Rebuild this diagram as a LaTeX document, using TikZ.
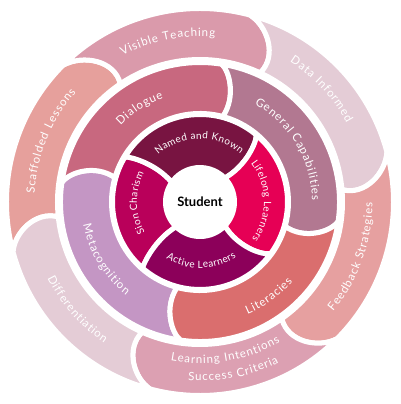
\documentclass[tikz,border=0pt]{standalone}
\usepackage{fontspec}
\setmainfont{Lato}
\newfontfamily\lblfont{Lato}
\usepackage{tikz}
\usetikzlibrary{decorations.text}

\definecolor{sioncol}{HTML}{B9005A}
\definecolor{namedcol}{HTML}{781441}
\definecolor{lifelongcol}{HTML}{E60055}
\definecolor{activecol}{HTML}{8C005A}
\definecolor{metacol}{HTML}{C496C4}
\definecolor{dialoguecol}{HTML}{C8687F}
\definecolor{generalcol}{HTML}{B27891}
\definecolor{literacycol}{HTML}{DA6E6E}
\definecolor{scaffoldcol}{HTML}{E6A09C}
\definecolor{visiblecol}{HTML}{DA9AAB}
\definecolor{datacol}{HTML}{E4CCD6}
\definecolor{feedbackcol}{HTML}{E6A0A0}
\definecolor{learningcol}{HTML}{DCA0B2}
\definecolor{diffcol}{HTML}{E4CCD6}

\begin{document}
\begin{tikzpicture}[x=1pt, y=1pt,
	part/.style={draw=white, line width=5pt, line join=round},
	innerlbl/.style={decorate, decoration={text along path, text align=center, text color=white,
		text={|\lblfont\fontsize{10}{12}\selectfont\kern0.4pt|#1}}},
	outerlbl/.style={decorate, decoration={text along path, text align=center, text color=white,
		text={|\lblfont\fontsize{11.5}{14}\selectfont\kern0.9pt|#1}}}]

	\fill[white] (-200,-202) rectangle (200,202);
	\useasboundingbox (-200,-202) rectangle (200,202);

	% each part: tail at the outer edge, rounded head at the clockwise end
	\foreach \col/\rin/\rout/\tout/\tin/\hout/\hin/\bul in {
		sioncol/34.5/87.5/229/226/149/145/6, namedcol/34.5/87.5/149/145/50/44/6,
		lifelongcol/34.5/87.5/50/44/-36/-44/6, activecol/34.5/87.5/-36/-44/-131/-134/6,
		metacol/88.5/139.5/262/255/172/164/4, dialoguecol/88.5/139.5/172/164/81/75/4,
		generalcol/88.5/139.5/81/75/-8/-16/4, literacycol/88.5/139.5/-8/-16/-98/-105/4,
		scaffoldcol/142.5/193.5/195/186/135/124/3, visiblecol/142.5/193.5/135/124/75/65/3,
		datacol/142.5/193.5/75/65/15/5/3, feedbackcol/142.5/193.5/15/5/-45/-55/3,
		learningcol/142.5/193.5/-45/-55/-105/-114/3, diffcol/142.5/193.5/-105/-114/-165/-174/3}
		\filldraw[part, fill=\col] (\tout:\rout) arc[start angle=\tout, end angle=\hout, radius=\rout]
			.. controls ({\hout-0.6*(\hout-(\hin))}:{\rout-0.1*(\rout-\rin)}) and ({\hin-\bul}:{\rin+0.45*(\rout-\rin)}) .. (\hin:\rin)
			arc[start angle=\hin, end angle=\tin, radius=\rin]
			.. controls ({\tin-\bul}:{\rin+0.45*(\rout-\rin)}) and ({\tout-0.6*(\tout-(\tin))}:{\rout-0.1*(\rout-\rin)}) .. cycle;

	\node[font=\fontsize{13}{15}\selectfont\bfseries] (student) at (0,0) {Student};

	% inner ring
	\path[innerlbl={Named and Known}] (176:63) arc[start angle=176, end angle=6, radius=63];
	\path[innerlbl={Lifelong Learners}] (86:64) arc[start angle=86, end angle=-84, radius=64];
	\path[innerlbl={Sion Charism}] (266:63) arc[start angle=266, end angle=96, radius=63];
	\path[innerlbl={Active Learners}] (-174:66) arc[start angle=-174, end angle=-4, radius=66];

	% middle ring
	\path[outerlbl={Dialogue}] (193:110) arc[start angle=193, end angle=53, radius=110];
	\path[outerlbl={General Capabilities}] (101:112) arc[start angle=101, end angle=-39, radius=112];
	\path[outerlbl={Literacies}] (-124:122) arc[start angle=-124, end angle=16, radius=122];
	\path[outerlbl={Metacognition}] (-219:119) arc[start angle=-219, end angle=-79, radius=119];

	% outer ring
	\path[outerlbl={Visible Teaching}] (151:165.5) arc[start angle=151, end angle=52, radius=165.5];
	\path[outerlbl={Data Informed}] (93:166.5) arc[start angle=93, end angle=-7, radius=166.5];
	\path[outerlbl={Scaffolded Lessons}] (208:165.5) arc[start angle=208, end angle=108, radius=165.5];
	\path[outerlbl={Feedback Strategies}] (-70:172.5) arc[start angle=-70, end angle=30, radius=172.5];
	\path[outerlbl={Differentiation}] (-189:170.5) arc[start angle=-189, end angle=-89, radius=170.5];
	\path[outerlbl={Learning Intentions}] (-130:161.5) arc[start angle=-130, end angle=-31, radius=161.5];
	\path[outerlbl={Success Criteria}] (-129:179) arc[start angle=-129, end angle=-29, radius=179];

\end{tikzpicture}
\end{document}
